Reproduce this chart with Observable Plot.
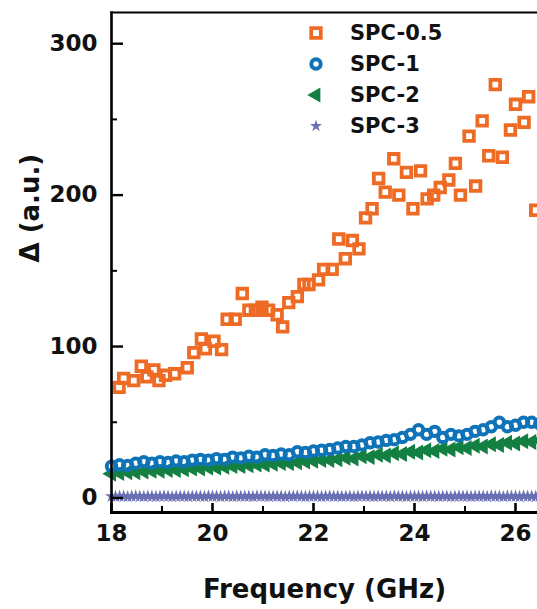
<!DOCTYPE html>
<html>
<head>
<meta charset="utf-8">
<script src="https://cdn.jsdelivr.net/npm/d3@7"></script>
<script src="https://cdn.jsdelivr.net/npm/@observablehq/plot@0.6"></script>
<style>
  html, body { margin: 0; padding: 0; background: #fff; }
  #wrap { position: relative; width: 537px; height: 609px; overflow: hidden; font-family: "DejaVu Sans", sans-serif; }
  #legend { position: absolute; left: 305px; top: 17px; }
  .row { display: flex; align-items: center; height: 31px; }
  .row svg { width: 22px; height: 22px; margin-right: 23px; }
  .row span { font-size: 21px; font-weight: bold; color: #111; }
</style>
</head>
<body>
<div id="wrap"><div id="legend"></div></div>
<script>
// ---- data ----
const seriesNames = ["SPC-0.5", "SPC-1", "SPC-2", "SPC-3"];

const freq05 = [18.15,18.24,18.44,18.59,18.70,18.84,18.94,19.07,19.25,19.50,19.63,19.78,19.86,20.03,20.18,20.29,20.45,20.59,20.72,20.85,20.98,21.11,21.28,21.39,21.51,21.68,21.81,21.91,22.10,22.20,22.37,22.50,22.63,22.77,22.90,23.03,23.16,23.29,23.42,23.59,23.69,23.84,23.97,24.12,24.25,24.38,24.51,24.68,24.81,24.91,25.08,25.21,25.34,25.47,25.60,25.74,25.90,26.00,26.17,26.26,26.40];
const spc05 = [73,79,77.5,87,80,84.6,77.5,81,82,86,96,105,98.5,103.5,98,118,118,135,124,124,126,124,121,113,129,133,141,141,144,151,151,171,158,170,164.5,185,191,211,202,224,200,215,191,216,197.5,200,205,210,221,200,239,206,249,226,273,225,243,260,248,265,190];

const freqMid = [18.00,18.16,18.32,18.48,18.64,18.80,18.96,19.12,19.28,19.44,19.60,19.76,19.92,20.08,20.24,20.40,20.56,20.72,20.88,21.04,21.20,21.36,21.52,21.68,21.84,22.00,22.16,22.32,22.48,22.64,22.80,22.96,23.12,23.28,23.44,23.60,23.76,23.92,24.08,24.24,24.40,24.56,24.72,24.88,25.04,25.20,25.36,25.52,25.68,25.84,26.00,26.16,26.32,26.48];
const spc1 = [21,22,21.5,23,24,23,24,23.5,24.5,24,25,25.5,25,26,25.5,27,26.5,27.5,27,28.5,28,29,28.5,30.5,30,31,31.5,32,33,34,34,35,36.5,37,38,38.5,40,42,45,42,44,40,42,41,42,44,45,47,50,47,48,50,50,49];
const spc2 = [16,16.5,17,17,17.5,18,18,18.5,18.5,19,19.5,19.5,20,20,20.5,21,21,21.5,22,22,22.5,23,23,23.5,24,24.5,25,25,25.5,26.5,26,27.5,27,28.5,28,29.5,29,30.5,30,31.5,31,32.5,32,33.5,33,34.5,34,35.5,35,36.5,36,37.5,37,38];

const freqFine = [18.00,18.08,18.16,18.24,18.32,18.40,18.48,18.56,18.64,18.72,18.80,18.88,18.96,19.04,19.12,19.20,19.28,19.36,19.44,19.52,19.60,19.68,19.76,19.84,19.92,20.00,20.08,20.16,20.24,20.32,20.40,20.48,20.56,20.64,20.72,20.80,20.88,20.96,21.04,21.12,21.20,21.28,21.36,21.44,21.52,21.60,21.68,21.76,21.84,21.92,22.00,22.08,22.16,22.24,22.32,22.40,22.48,22.56,22.64,22.72,22.80,22.88,22.96,23.04,23.12,23.20,23.28,23.36,23.44,23.52,23.60,23.68,23.76,23.84,23.92,24.00,24.08,24.16,24.24,24.32,24.40,24.48,24.56,24.64,24.72,24.80,24.88,24.96,25.04,25.12,25.20,25.28,25.36,25.44,25.52,25.60,25.68,25.76,25.84,25.92,26.00,26.08,26.16,26.24,26.32,26.40,26.48];
const spc3 = [1.0,0.9,1.1,1.0,0.8,1.0,1.2,1.0,0.9,1.1,1.0,0.9,1.0,1.2,1.0,0.8,1.0,1.1,1.0,0.9,1.1,1.0,1.0,0.9,1.2,1.0,1.0,0.9,1.1,1.0,0.8,1.0,1.1,1.0,1.0,0.9,1.2,1.0,1.0,0.9,1.1,1.0,1.0,0.8,1.1,1.0,1.2,1.0,0.9,1.0,1.1,1.0,0.9,1.0,1.2,1.0,1.0,0.9,1.1,1.0,0.8,1.0,1.2,1.0,1.0,0.9,1.1,1.0,1.0,0.9,1.2,1.0,1.0,0.8,1.1,1.0,1.0,0.9,1.2,1.0,1.0,0.9,1.1,1.0,0.8,1.0,1.2,1.0,1.0,0.9,1.1,1.0,1.0,0.9,1.2,1.0,1.0,0.8,1.1,1.0,1.0,0.9,1.2,1.0,1.0,0.9,1.1];

const xTicks = [18, 20, 22, 24, 26];
const xMinor = [19, 21, 23, 25];
const yTicks = [0, 100, 200, 300];
const yMinor = [50, 150, 250];

// ---- styles ----
const colors = ["#EE6B25", "#0F73B8", "#138042", "#6B70B4"];
const font = "DejaVu Sans";
const W = 537, H = 609, mL = 111, mR = 0, mT = 12, mB = 97;
const plotW = W - mL - mR, plotH = H - mT - mB;

const d05 = freq05.map((f, i) => ({f, v: spc05[i]}));
const d1 = freqMid.map((f, i) => ({f, v: spc1[i]}));
const d2 = freqMid.map((f, i) => ({f, v: spc2[i]}));
const d3s = freqFine.map((f, i) => ({f, v: spc3[i]}));

const chart = Plot.plot({
  width: W, height: H,
  marginLeft: mL, marginRight: mR, marginTop: mT, marginBottom: mB,
  style: {fontFamily: font, background: "white", overflow: "hidden"},
  x: {domain: [18, 18 + plotW / 50.5]},
  y: {domain: [-9.6, 320.6]},
  marks: [
    Plot.dot(d3s, {x: "f", y: "v", symbol: "star", r: 4.1, fill: colors[3], stroke: "none"}),
    Plot.dot(d2, {x: "f", y: "v", symbol: "triangle", rotate: -90, r: 5.9, fill: colors[2], stroke: "none"}),
    Plot.dot(d1, {x: "f", y: "v", symbol: "circle", r: 4.7, fill: "none", stroke: colors[1], strokeWidth: 4}),
    Plot.dot(d05, {x: "f", y: "v", symbol: "square", r: 5.4, fill: "none", stroke: colors[0], strokeWidth: 3.8}),
    // frame lines
    Plot.frame({anchor: "left", stroke: "#000", strokeWidth: 2.6}),
    Plot.frame({anchor: "bottom", stroke: "#000", strokeWidth: 3}),
    Plot.frame({anchor: "top", stroke: "#000", strokeWidth: 2}),
    // inward ticks
    Plot.tickY(yTicks, {y: d => d, insetRight: plotW - 12, stroke: "#000", strokeWidth: 2.4}),
    Plot.tickY(yMinor, {y: d => d, insetRight: plotW - 6, stroke: "#000", strokeWidth: 2}),
    Plot.tickX(xTicks, {x: d => d, insetTop: plotH - 9, stroke: "#000", strokeWidth: 2.6}),
    Plot.tickX(xMinor, {x: d => d, insetTop: plotH - 6, stroke: "#000", strokeWidth: 2}),
    // tick labels
    Plot.axisY({ticks: yTicks, tickSize: 0, tickPadding: 14, fontSize: 23, fontWeight: "bold", label: null, fill: "#111"}),
    Plot.axisX({ticks: xTicks, tickSize: 0, tickPadding: 12, fontSize: 23, fontWeight: "bold", label: null, fill: "#111"}),
    // axis titles
    Plot.text(["Frequency (GHz)"], {frameAnchor: "bottom", dy: 77, fontSize: 26, fontWeight: "bold", fill: "#111", lineAnchor: "middle"}),
    Plot.text(["\u0394 (a.u.)"], {frameAnchor: "left", dx: -81, rotate: -90, fontSize: 26, fontWeight: "bold", fill: "#111", lineAnchor: "middle"})
  ]
});
document.getElementById("wrap").prepend(chart);

// ---- legend (HTML overlay) ----
const legendSymbols = [
  {type: "square", size: Math.PI * 5.4 * 5.4},
  {type: "circle", r: 4.7},
  {type: "triangle", size: Math.PI * 5.6 * 5.6},
  {type: "star", size: Math.PI * 3.8 * 3.8}
];
const leg = d3.select("#legend");
seriesNames.forEach((name, i) => {
  const row = leg.append("div").attr("class", "row");
  const svg = row.append("svg").attr("viewBox", "-11 -11 22 22");
  const s = legendSymbols[i];
  if (s.type === "circle") {
    svg.append("circle").attr("r", s.r).attr("fill", "none").attr("stroke", colors[i]).attr("stroke-width", 4);
  } else if (s.type === "square") {
    svg.append("path").attr("d", d3.symbol(d3.symbolSquare, s.size)()).attr("fill", "none").attr("stroke", colors[i]).attr("stroke-width", 3.8);
  } else if (s.type === "triangle") {
    svg.append("path").attr("d", d3.symbol(d3.symbolTriangle, s.size)()).attr("transform", "rotate(-90)").attr("fill", colors[i]);
  } else {
    svg.append("path").attr("d", d3.symbol(d3.symbolStar, s.size)()).attr("fill", colors[i]);
  }
  row.append("span").text(name);
});
</script>
</body>
</html>
